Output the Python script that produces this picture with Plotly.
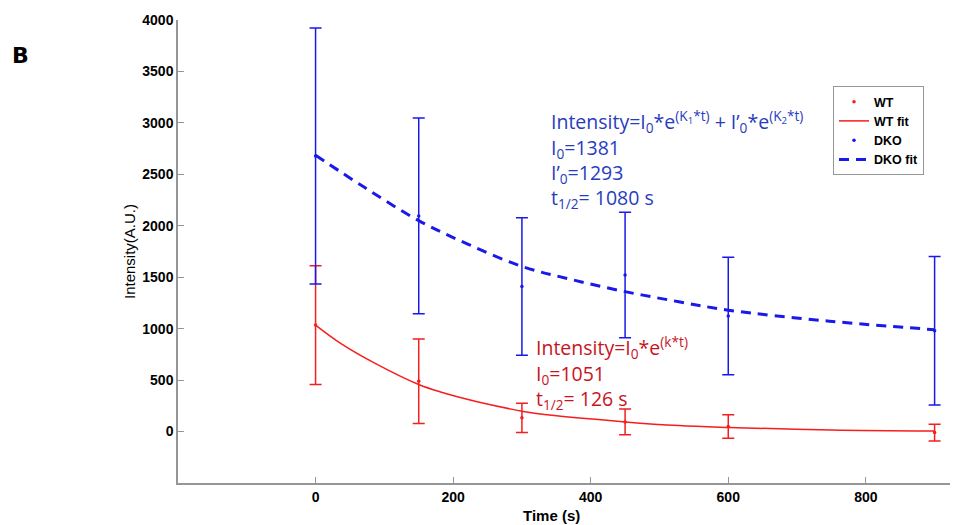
import plotly.graph_objects as go

# ---------------- data ----------------
time_s = [0, 150, 300, 450, 600, 900]

wt_mean = [1035, 489, 133, 94, 49, -10]
wt_err = [577, 410, 142, 125, 115, 82]

dko_mean = [2678, 2096, 1409, 1522, 1123, 980]
dko_err = [1245, 952, 668, 610, 572, 721]

wt_fit_t = [0, 37, 86, 150, 183, 232, 300, 324, 450, 528, 600, 750, 900]
wt_fit_v = [1035, 855, 665, 457, 382, 295, 198, 172, 94, 58, 40, 15, 5]

dko_fit_t = [0, 71, 150, 222, 300, 372, 450, 528, 600, 747, 900]
dko_fit_v = [2685, 2374, 2050, 1820, 1605, 1478, 1360, 1262, 1180, 1073, 990]

x_ticks = [0, 200, 400, 600, 800]
y_ticks = [0, 500, 1000, 1500, 2000, 2500, 3000, 3500, 4000]

blue_text = [
    "Intensity=I<sub>0</sub>*e<sup>(K<sub>1</sub>*t)</sup> + I\u2019<sub>0</sub>*e<sup>(K<sub>2</sub>*t)</sup>",
    "I<sub>0</sub>=1381",
    "I\u2019<sub>0</sub>=1293",
    "t<sub>1/2</sub>= 1080 s",
]
red_text = [
    "Intensity=I<sub>0</sub>*e<sup>(k*t)</sup>",
    "I<sub>0</sub>=1051",
    "t<sub>1/2</sub>= 126 s",
]

RED = "rgb(245,30,30)"
BLUE = "rgb(25,25,235)"
TXT_BLUE = "rgb(40,60,190)"
TXT_RED = "rgb(200,20,30)"
GRAY = "rgb(150,150,150)"

fig = go.Figure()
fig.add_trace(go.Scatter(
    x=time_s, y=wt_mean, mode="markers", name="WT",
    marker=dict(color=RED, size=3.5),
    error_y=dict(type="data", array=wt_err, color=RED, thickness=1.5, width=6),
))
fig.add_trace(go.Scatter(
    x=wt_fit_t, y=wt_fit_v, mode="lines", name="WT fit",
    line=dict(color=RED, width=1.5, shape="spline", smoothing=1.0),
))
fig.add_trace(go.Scatter(
    x=time_s, y=dko_mean, mode="markers", name="DKO",
    marker=dict(color=BLUE, size=3.5),
    error_y=dict(type="data", array=dko_err, color=BLUE, thickness=1.5, width=6),
))
fig.add_trace(go.Scatter(
    x=dko_fit_t, y=dko_fit_v, mode="lines", name="DKO fit",
    line=dict(color=BLUE, width=3, dash="10px,7px", shape="spline", smoothing=1.0),
))

# page offset (default body margin of the html page)
OFF = 8
W, H = 950, 517
# plot area in page pixels: x 178..958, y 20..483
L = 178 - OFF
T = 20 - OFF
R = 0
B = H - (483 - OFF)
PW, PH = W - L - R, H - T - B


def px(xp):
    return (xp - OFF - L) / PW


def py(yp):
    return (H - B - (yp - OFF)) / PH


ann = []
ann.append(dict(text="B", x=px(20), y=py(55), xref="paper", yref="paper",
                showarrow=False, xanchor="center", yanchor="middle",
                font=dict(family="DejaVu Sans", size=22, color="black", weight="bold")))
ann.append(dict(text="Intensity(A.U.)", x=px(129), y=py(252), xref="paper", yref="paper",
                showarrow=False, textangle=-90, xanchor="center", yanchor="middle",
                font=dict(family="Liberation Sans", size=15, color="black")))
ann.append(dict(text="Time (s)", x=px(551), y=py(515), xref="paper", yref="paper",
                showarrow=False, xanchor="center", yanchor="middle",
                font=dict(family="Liberation Sans", size=15, color="black", weight="bold")))

ann.append(dict(text="<br>".join(blue_text), x=px(549), y=py(159), xref="paper", yref="paper",
                showarrow=False, xanchor="left", yanchor="middle", align="left",
                font=dict(family="Open Sans", size=19.5, color=TXT_BLUE)))
ann.append(dict(text="<br>".join(red_text), x=px(534), y=py(373), xref="paper", yref="paper",
                showarrow=False, xanchor="left", yanchor="middle", align="left",
                font=dict(family="Open Sans", size=19.5, color=TXT_RED)))

fig.update_layout(
    width=W, height=H,
    margin=dict(l=L, r=R, t=T, b=B, pad=0),
    paper_bgcolor="white", plot_bgcolor="white",
    showlegend=True,
    legend=dict(x=px(833), y=py(86), xanchor="left", yanchor="top",
                bgcolor="white", bordercolor=GRAY, borderwidth=1,
                font=dict(family="Liberation Sans", size=12.5, color="black", weight="bold"),
                tracegroupgap=0, traceorder="normal"),
    annotations=ann,
)
fig.update_xaxes(range=[-200, 934], tickvals=x_ticks, ticks="inside", ticklen=6,
                 tickcolor=GRAY, tickwidth=1, showline=True, linecolor=GRAY, linewidth=1.5,
                 showgrid=False, zeroline=False,
                 tickfont=dict(family="Liberation Sans", size=14, color="black", weight="bold"))
fig.update_yaxes(range=[-500, 4000], tickvals=y_ticks, ticks="inside", ticklen=6,
                 tickcolor=GRAY, tickwidth=1, showline=True, linecolor=GRAY, linewidth=1.5,
                 showgrid=False, zeroline=False,
                 tickfont=dict(family="Liberation Sans", size=14, color="black", weight="bold"))

fig.write_html("out.html")
